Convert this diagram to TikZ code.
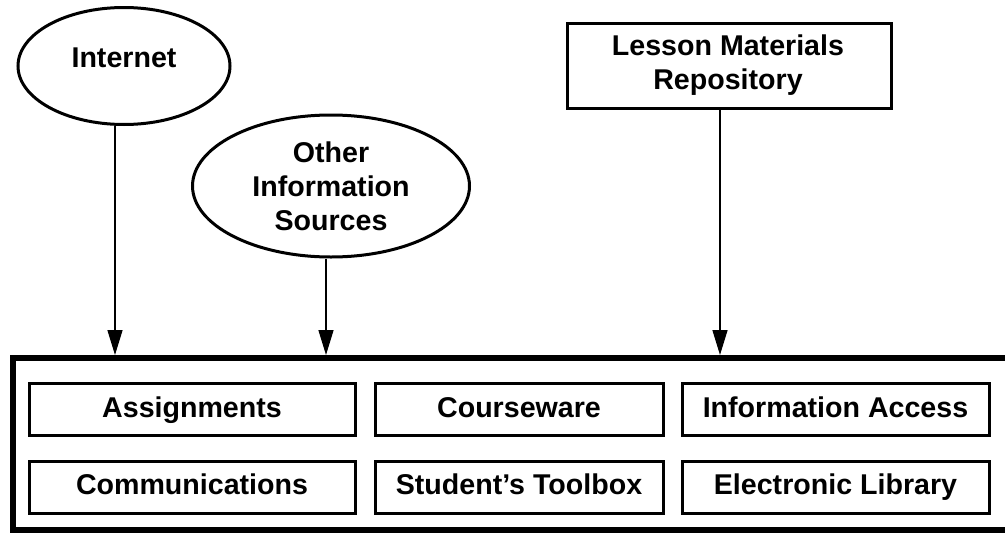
\documentclass[tikz,border=0pt]{standalone}
\usepackage{fontspec}
\setmainfont{Liberation Sans}
\usetikzlibrary{shapes.geometric,arrows.meta}
\tikzset{
  x=1pt,y=-1pt,
  txt/.style={font=\fontsize{28.6}{34}\selectfont\bfseries,align=center,inner sep=0pt},
  oval/.style={draw,ellipse,line width=3pt,inner sep=0pt},
  inbox/.style={draw,line width=3pt,minimum width=326pt,minimum height=52pt,inner sep=0pt,
    text height=20.5pt,text depth=5.5pt,font=\fontsize{28.6}{34}\selectfont\bfseries},
  arr/.style={line width=1.5pt,-{Triangle[length=25pt,width=15pt]}},
}
\begin{document}
\begin{tikzpicture}
\useasboundingbox (0,0) rectangle (1005,536);
% outer box
\draw[line width=6pt] (13,358) rectangle (1015,530);
\coordinate (a1) at (115,355);
\coordinate (a2) at (326,355);
\coordinate (a3) at (720,355);
% sources
\node[oval,minimum width=212pt,minimum height=117pt] (int) at (124,66) {};
\node[txt] (intt) at (124,58) {Internet};
\node[oval,minimum width=277pt,minimum height=142pt] (oth) at (331,186) {};
\node[txt] (otht) at (331,186) {Other\\Information\\Sources};
\node[draw,line width=3pt,minimum width=324pt,minimum height=85pt,inner sep=0pt] (les) at (729,65.5) {};
\node[txt] (lest) at (728,65) {Lesson Materials\\Repository};
% arrows
\draw[arr] (int.south -| a1) -- (a1);
\draw[arr] (oth.south -| a2) -- (a2);
\draw[arr] (les.south -| a3) -- (a3);
% inner boxes
\node[inbox] (asg) at (192,409.5) {Assignments};
\node[inbox,minimum width=288pt] (cou) at (519,409.5) {Courseware};
\node[inbox,minimum width=307pt] (ina) at (835.5,409.5) {Information Access};
\node[inbox] (com) at (192,487) {Communications};
\node[inbox,minimum width=288pt] (stu) at (519,487) {Student’s Toolbox};
\node[inbox,minimum width=307pt] (ele) at (835.5,487) {Electronic Library};
\end{tikzpicture}
\end{document}
